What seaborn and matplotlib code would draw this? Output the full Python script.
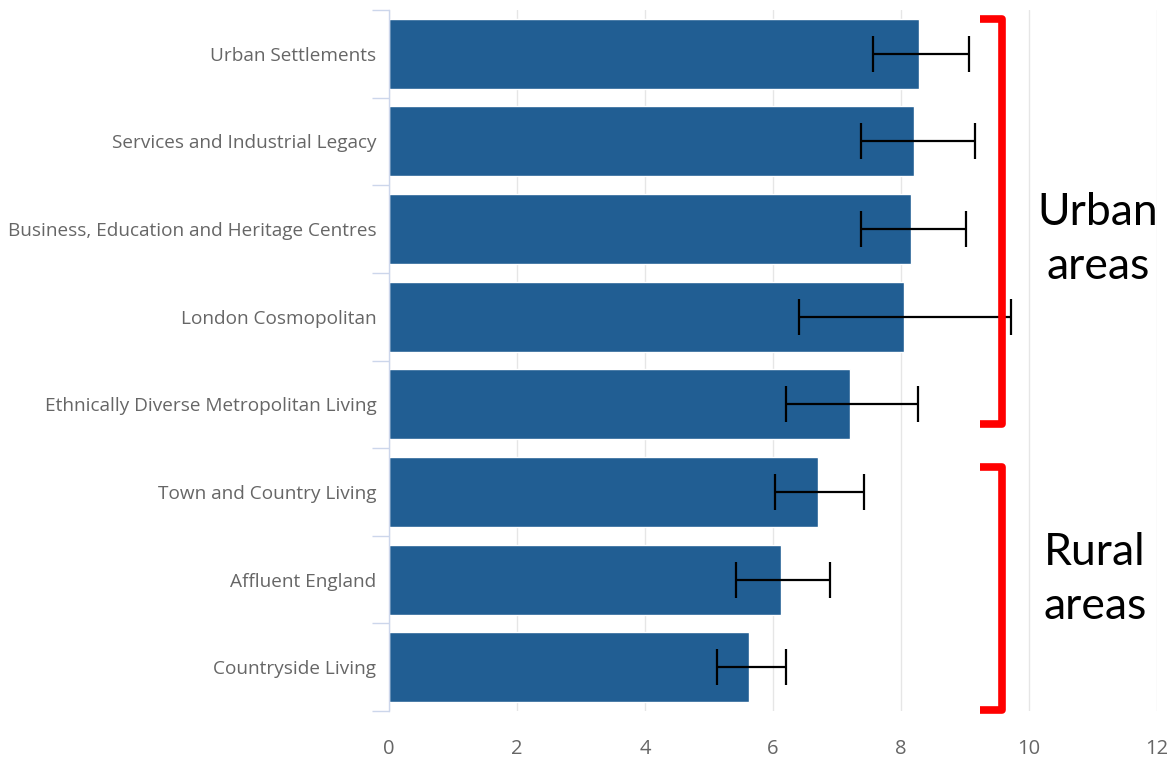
import matplotlib
matplotlib.use("Agg")
import matplotlib.pyplot as plt
import seaborn as sns
import pandas as pd

categories = [
    "Urban Settlements",
    "Services and Industrial Legacy",
    "Business, Education and Heritage Centres",
    "London Cosmopolitan",
    "Ethnically Diverse Metropolitan Living",
    "Town and Country Living",
    "Affluent England",
    "Countryside Living",
]
values = [8.28, 8.20, 8.16, 8.05, 7.20, 6.70, 6.13, 5.63]
err_low = [7.56, 7.38, 7.38, 6.41, 6.20, 6.03, 5.42, 5.13]
err_high = [9.06, 9.16, 9.02, 9.72, 8.27, 7.42, 6.89, 6.20]
x_ticks = [0, 2, 4, 6, 8, 10, 12]

sns.set_theme(style="white")
plt.rcParams["font.family"] = ["Open Sans", "DejaVu Sans"]

df = pd.DataFrame({"group": categories, "value": values})

fig = plt.figure(figsize=(11.71, 7.57), dpi=100)
ax = fig.add_axes([389 / 1171, 1 - 711 / 757, (1157 - 389) / 1171, 701 / 757])

sns.barplot(data=df, x="value", y="group", orient="h", color="#215e93",
            saturation=1, width=0.8, ax=ax, zorder=2)

ypos = list(range(len(categories)))
xerr = [[v - l for v, l in zip(values, err_low)], [h - v for v, h in zip(values, err_high)]]
ax.errorbar(values, ypos, xerr=xerr, fmt="none", ecolor="black", elinewidth=1.6,
            capsize=13, capthick=1.6, zorder=3)

ax.set_xlim(0, 12)
ax.set_ylim(7.5, -0.5)
ax.set_xticks(x_ticks)
ax.set_xticklabels([str(t) for t in x_ticks])
ax.grid(axis="x", color="#e6e6e6", linewidth=1, zorder=0)
ax.set_axisbelow(True)
ax.set_xlabel("")
ax.set_ylabel("")

for s in ["top", "right", "bottom"]:
    ax.spines[s].set_visible(False)
ax.spines["left"].set_color("#ccd6eb")
ax.spines["left"].set_linewidth(1)

ax.set_yticks([i - 0.5 for i in range(len(categories) + 1)], minor=True)
ax.tick_params(axis="y", which="minor", length=12, color="#ccd6eb", width=1, left=True)
ax.tick_params(axis="y", which="major", length=0, pad=9, labelsize=13.7, labelcolor="#666666")
ax.tick_params(axis="x", length=0, pad=20, labelsize=14.5, labelcolor="#666666")

# brackets (annotation)
red = "#ff0000"
bx = 9.58
ax.plot([9.23, bx, bx, 9.23], [-0.40, -0.40, 4.22, 4.22], color=red, lw=5.5,
        solid_joinstyle="round", solid_capstyle="butt", clip_on=False, zorder=4)
ax.plot([9.23, bx, bx, 9.23], [4.71, 4.71, 7.49, 7.49], color=red, lw=5.5,
        solid_joinstyle="round", solid_capstyle="butt", clip_on=False, zorder=4)

ax.text(11.08, 2.12, "Urban\nareas", ha="center", va="center", fontsize=32,
        color="black", family=["Lato", "DejaVu Sans"], linespacing=1.4, clip_on=False)
ax.text(11.03, 6.0, "Rural\nareas", ha="center", va="center", fontsize=32,
        color="black", family=["Lato", "DejaVu Sans"], linespacing=1.4, clip_on=False)

fig.savefig("out.png", dpi=100)
